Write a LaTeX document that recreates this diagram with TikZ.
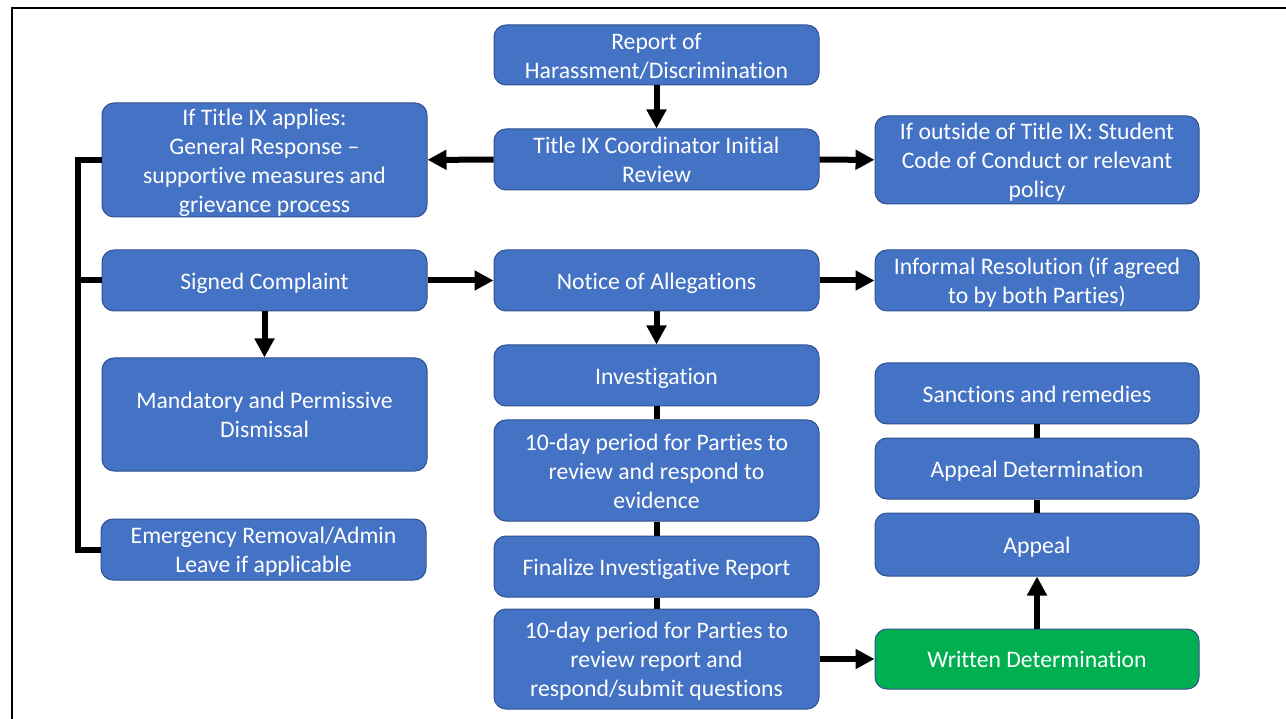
\documentclass[tikz,border=0pt]{standalone}
\usepackage{fontspec}
\setmainfont[Ligatures={TeX,NoCommon}]{Carlito}
\usetikzlibrary{arrows.meta}
\definecolor{boxblue}{HTML}{4472C4}
\definecolor{boxedge}{HTML}{2F528F}
\definecolor{boxgreen}{HTML}{00B050}
\newcommand{\sx}{\rule[-4.5pt]{0pt}{26.5pt}}
\tikzset{
  flowbox/.style={rectangle, rounded corners=12pt, fill=boxblue, draw=boxedge,
    line width=1pt, text=white, align=center, inner sep=0pt,
    font=\fontsize{23.7}{29}\selectfont},
  greenbox/.style={flowbox, fill=boxgreen},
  arr/.style={line width=6pt, -{Triangle[length=19pt,width=19pt]}},
  link/.style={line width=6pt},
}
\begin{document}
\begin{tikzpicture}[x=1pt,y=-1pt]
\useasboundingbox (0,0) rectangle (1286,719);
\draw[line width=2.3pt] (12.2,730) -- (12.2,7.9) -- (1300,7.9);
% left column
\node[flowbox, minimum width=325pt, minimum height=114pt] (iftitle) at (264.5,160) {\sx If Title IX applies:\\\sx General Response –\\\sx supportive measures and\\\sx grievance process};
\node[flowbox, minimum width=325pt, minimum height=61pt] (signed) at (264.5,280.5) {\sx Signed Complaint};
\node[flowbox, minimum width=325pt, minimum height=113pt] (dismiss) at (264.5,414.5) {\sx Mandatory and Permissive\\\sx Dismissal};
\node[flowbox, minimum width=325pt, minimum height=61pt] (emerg) at (263.5,549.5) {\sx Emergency Removal/Admin\\\sx Leave if applicable};
% middle column
\node[flowbox, minimum width=325pt, minimum height=60pt] (report) at (656.5,55) {\sx Report of\\\sx Harassment/Discrimination};
\node[flowbox, minimum width=325pt, minimum height=61pt] (coord) at (656.5,159.5) {\sx Title IX Coordinator Initial\\\sx Review};
\node[flowbox, minimum width=325pt, minimum height=61pt] (notice) at (656.5,280.5) {\sx Notice of Allegations};
\node[flowbox, minimum width=325pt, minimum height=61pt] (invest) at (656.5,375.5) {\sx Investigation};
\node[flowbox, minimum width=325pt, minimum height=101pt] (review1) at (656.5,470.5) {\sx 10-day period for Parties to\\\sx review and respond to\\\sx evidence};
\node[flowbox, minimum width=325pt, minimum height=61pt] (final) at (656.5,566.5) {\sx Finalize Investigative Report};
\node[flowbox, minimum width=325pt, minimum height=100pt] (review2) at (656.5,659) {\sx 10-day period for Parties to\\\sx review report and\\\sx respond/submit questions};
% right column
\node[flowbox, minimum width=324pt, minimum height=88pt] (outside) at (1037,160) {\sx If outside of Title IX: Student\\\sx Code of Conduct or relevant\\\sx policy};
\node[flowbox, minimum width=324pt, minimum height=61pt] (informal) at (1037,280.5) {\sx Informal Resolution (if agreed\\\sx to by both Parties)};
\node[flowbox, minimum width=324pt, minimum height=61pt] (sanct) at (1037,393.5) {\sx Sanctions and remedies};
\node[flowbox, minimum width=324pt, minimum height=61pt] (appdet) at (1037,468.5) {\sx Appeal Determination};
\node[flowbox, minimum width=324pt, minimum height=63pt] (appeal) at (1037,544.5) {\sx Appeal};
\node[greenbox, minimum width=324pt, minimum height=60pt] (written) at (1037,659) {\sx Written Determination};
% connectors
\coordinate (busx) at (78,0);
\draw[link] (iftitle.west) -- (iftitle.west -| busx) |- (emerg.west);
\draw[link] (signed.west) -- (signed.west -| busx);
\draw[arr] (report) -- (coord);
\draw[arr] (coord) -- (iftitle);
\draw[arr] (coord) -- (outside);
\draw[arr] (signed) -- (notice);
\draw[arr] (notice) -- (informal);
\draw[arr] (signed) -- (dismiss);
\draw[arr] (notice) -- (invest);
\draw[link] (invest) -- (review1);
\draw[link] (review1) -- (final);
\draw[link] (final) -- (review2);
\draw[arr] (review2) -- (written);
\draw[arr] (written) -- (appeal);
\draw[link] (appeal) -- (appdet);
\draw[link] (appdet) -- (sanct);
\end{tikzpicture}
\end{document}
